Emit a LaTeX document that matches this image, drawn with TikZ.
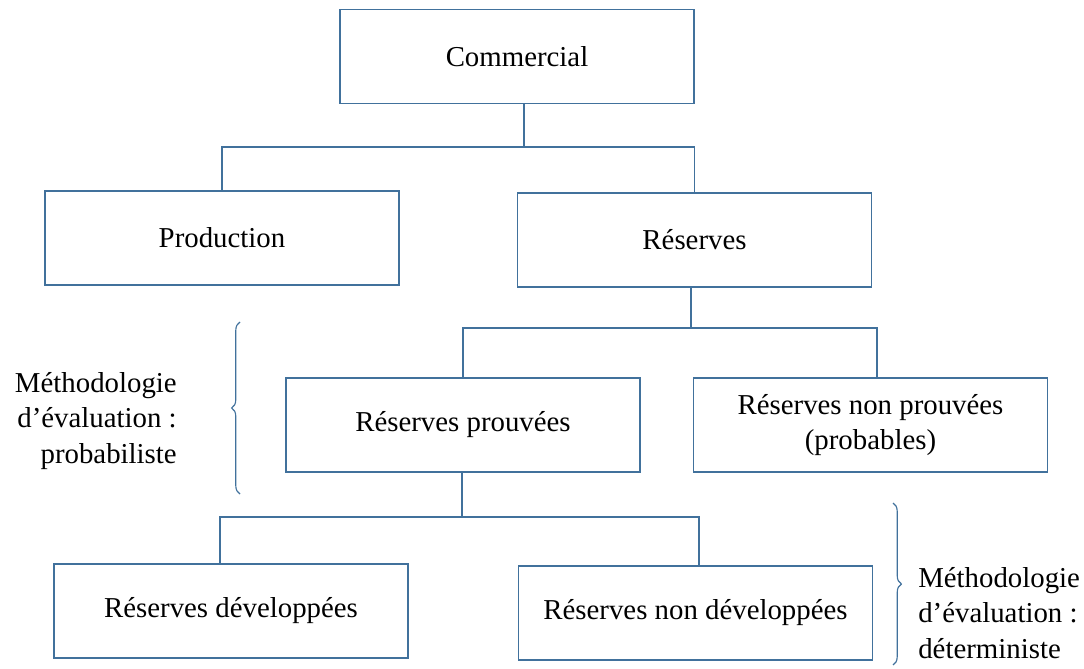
\documentclass[tikz,border=0pt]{standalone}
\usepackage{fontspec}
\setmainfont{Liberation Serif}
\usetikzlibrary{positioning, decorations.pathreplacing}
\definecolor{boxblue}{RGB}{65,113,156}
\newcommand{\boxwidth}{8.85cm}
\newcommand{\boxheight}{2.35cm}
\tikzstyle{orgbox} = [% organisation box
  rectangle,
  minimum width=\boxwidth,
  minimum height=\boxheight,
  text centered,
  align=center,
  draw=boxblue,
  line width=1.2pt,
  font=\fontsize{20.5}{25}\selectfont
  ]
\tikzstyle{link} = [% elbow connector
  draw=boxblue,
  line width=1.2pt
  ]
\tikzstyle{bracket} = [% curly brace
  draw=boxblue,
  line width=0.8pt,
  decorate,
  decoration={brace, amplitude=6pt}
  ]
\tikzstyle{note} = [% side label
  inner sep=0pt,
  font=\fontsize{20.5}{25}\selectfont
  ]

\begin{document}
\begin{tikzpicture}[x=0.025cm, y=-0.025cm]
\useasboundingbox (0,0) rectangle (1084,669);

%%% Nodes
\node[orgbox] (com) at (517,56.5) {Commercial};
\node[orgbox] (prod) at (222,238) {Production};
\node[orgbox] (res) at (694.5,240) {Réserves};
\node[orgbox] (prouv) at (463,425) {Réserves prouvées};
\node[orgbox] (nonprouv) at (870.5,425) {Réserves non prouvées\\(probables)};
\node[orgbox] (dev) at (231,611) {Réserves développées};
\node[orgbox] (nondev) at (695.5,613) {Réserves non développées};

%%% Joints
\coordinate (j1) at (524,147);
\coordinate (j2) at (691,328);
\coordinate (j3) at (462,517);

%%% Connectors
\draw[link] (j1 |- com.south) -- (j1);
\draw[link] (prod.north) |- (j1) -| (res.north);
\draw[link] (j2 |- res.south) -- (j2);
\draw[link] (prouv.north) |- (j2) -| ([xshift=4.6pt]nonprouv.north);
\draw[link] (j3 |- prouv.south) -- (j3);
\draw[link] ([xshift=-7.8pt]dev.north) |- (j3) -| ([xshift=2.5pt]nondev.north);

%%% Side labels
\coordinate (b1s) at (240,494);
\coordinate (b1e) at (240,322);
\coordinate (b2s) at (893,503);
\coordinate (b2e) at (893,665);
\draw[bracket] (b1s) -- (b1e);
\draw[bracket] (b2s) -- (b2e);
\node[note, align=right, anchor=east] (proba) at (177,421) {Méthodologie\\d’évaluation :\\probabiliste};
\node[note, align=left, anchor=west] (deter) at (918,613) {Méthodologie\\d’évaluation :\\déterministe};

\end{tikzpicture}
\end{document}
